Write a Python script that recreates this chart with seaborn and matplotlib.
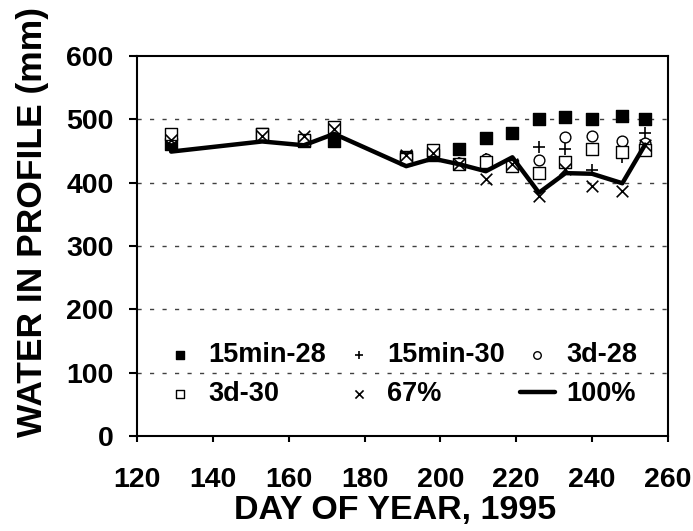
import numpy as np
import matplotlib
matplotlib.use("Agg")
import matplotlib.pyplot as plt
import seaborn as sns

# Day of year of each sampling date
days = [129, 153, 164, 172, 191, 198, 205, 212, 219, 226, 233, 240, 248, 254]

# Water in profile (mm) per treatment
min15_28 = [461, 476, 465, 466, 440, 444, 453, 470, 478, 500, 503, 501, 505, 500]
min15_30 = [468, 476, 468, 483, 438, 447, 431, 437, 429, 456, 453, 420, 441, 479]
d3_28 = [470, 476, 468, 485, 440, 450, 431, 437, 427, 436, 472, 473, 466, 463]
d3_30 = [476, 476, 468, 488, 437, 451, 429, 433, 426, 415, 432, 453, 449, 451]
pct67 = [468, 474, 474, 485, 443, 447, 429, 405, 429, 379, 422, 395, 386, 460]
pct100 = [449, 465, 459, 477, 426, 438, 429, 418, 440, 384, 415, 414, 399, 460]

sns.set_theme(style="white", rc={'text.color': 'black', 'axes.labelcolor': 'black',
                                 'xtick.color': 'black', 'ytick.color': 'black'})
plt.rcParams['font.family'] = ['Liberation Sans', 'DejaVu Sans']
plt.rcParams['font.weight'] = 'bold'

fig = plt.figure(figsize=(6.93, 5.31), dpi=100)
ax = fig.add_axes([0.1977, 0.179, 0.766, 0.7156])

# dashed gridlines
for yv in [100, 200, 300, 400, 500]:
    ax.axhline(yv, color='#404040', lw=1.0, ls=(0, (3, 6)), zorder=0)

mk = dict(s=70, edgecolor='black', linewidth=1.0, zorder=3)
sns.scatterplot(x=days, y=min15_28, marker='s', color='black', label='15min-28', ax=ax, **mk)
sns.scatterplot(x=days, y=min15_30, marker='+', color='black', label='15min-30', ax=ax,
                s=80, linewidth=1.2, zorder=3)
sns.scatterplot(x=days, y=d3_28, marker='o', facecolor='white', label='3d-28', ax=ax,
                s=60, edgecolor='black', linewidth=1.0, zorder=3)
sns.scatterplot(x=days, y=d3_30, marker='s', facecolor='white', label='3d-30', ax=ax, **mk)
sns.scatterplot(x=days, y=pct67, marker='x', color='black', label='67%', ax=ax,
                s=70, linewidth=1.2, zorder=3)
sns.lineplot(x=days, y=pct100, color='black', lw=3.2, label='100%', ax=ax, zorder=4)

ax.set_xlim(120, 260)
ax.set_ylim(0, 600)
ax.set_xticks(np.arange(120, 261, 20))
ax.set_yticks(np.arange(0, 601, 100))
ax.tick_params(axis='y', direction='out', length=6, width=1.5, labelsize=20.5, left=True, pad=11)
ax.tick_params(axis='x', direction='out', length=4, width=1.5, labelsize=20.5, bottom=True, pad=18)
for lab in ax.get_xticklabels() + ax.get_yticklabels():
    lab.set_fontweight('bold')

for side in ['left', 'bottom', 'top', 'right']:
    ax.spines[side].set_color('black')
    ax.spines[side].set_linewidth(1.5)

ax.set_xlabel('DAY OF YEAR, 1995', fontsize=24.5, fontweight='bold')
ax.set_ylabel('WATER IN PROFILE (mm)', fontsize=25.5, fontweight='bold')
ax.xaxis.set_label_coords(0.486, -0.155)
ax.yaxis.set_label_coords(-0.165, 0.563)

handles, labels = ax.get_legend_handles_labels()
order = ['15min-28', '3d-30', '15min-30', '67%', '3d-28', '100%']
hmap = dict(zip(labels, handles))
ax.legend([hmap[k] for k in order], order, ncol=3, loc='lower left',
          bbox_to_anchor=(0.2345, 0.2326), bbox_transform=fig.transFigure,
          frameon=False, prop={'weight': 'bold', 'size': 19.5},
          handlelength=1.3, columnspacing=0.55, handletextpad=0.4,
          labelspacing=0.5, markerscale=0.7, borderpad=0, borderaxespad=0)

fig.savefig('out.png', dpi=100)
